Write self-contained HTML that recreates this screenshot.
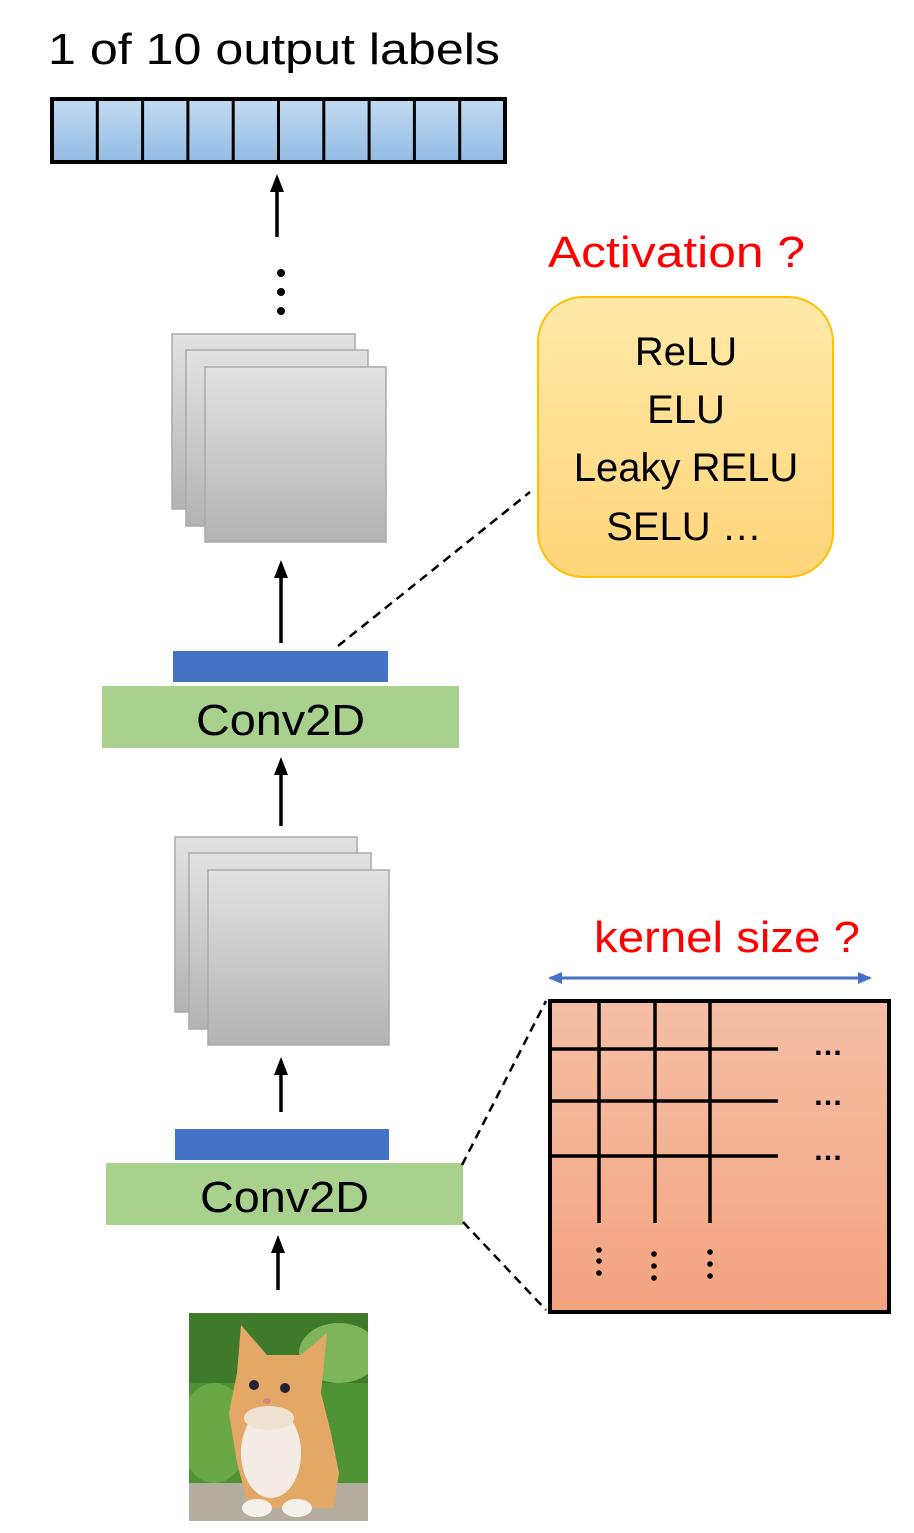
<!DOCTYPE html>
<html><head><meta charset="utf-8"><style>
html,body{margin:0;padding:0;background:#fff;}
svg{display:block;}
text{font-family:"Liberation Sans",sans-serif;}
</style></head><body>
<svg width="914" height="1533" viewBox="0 0 914 1533" xmlns="http://www.w3.org/2000/svg">
<defs>
<linearGradient id="gb" x1="0" y1="0" x2="0" y2="1"><stop offset="0" stop-color="#c3dbf2"/><stop offset="1" stop-color="#92bbe4"/></linearGradient>
<linearGradient id="gg" x1="0" y1="0" x2="0" y2="1"><stop offset="0" stop-color="#e2e2e2"/><stop offset="1" stop-color="#b3b3b3"/></linearGradient>
<linearGradient id="gy" x1="0" y1="0" x2="0" y2="1"><stop offset="0" stop-color="#ffe9a8"/><stop offset="1" stop-color="#ffd57a"/></linearGradient>
<linearGradient id="go" x1="0" y1="0" x2="0" y2="1"><stop offset="0" stop-color="#f5bfa6"/><stop offset="1" stop-color="#f4a380"/></linearGradient>
<marker id="ah" markerWidth="18" markerHeight="14" refX="4" refY="7" orient="auto" markerUnits="userSpaceOnUse"><path d="M0,0 L18,7 L0,14 z" fill="#000"/></marker>
<marker id="bh" markerWidth="14" markerHeight="12" refX="12" refY="6" orient="auto" markerUnits="userSpaceOnUse"><path d="M0,0 L14,6 L0,12 z" fill="#4472c4"/></marker>
<marker id="bt" markerWidth="14" markerHeight="12" refX="2" refY="6" orient="auto" markerUnits="userSpaceOnUse"><path d="M14,0 L0,6 L14,12 z" fill="#4472c4"/></marker>
</defs>
<text x="48" y="64" font-size="44" textLength="452" lengthAdjust="spacingAndGlyphs">1 of 10 output labels</text>
<rect x="52" y="99" width="453" height="63" fill="url(#gb)" stroke="#000" stroke-width="4"/>
<g stroke="#000" stroke-width="3">
<line x1="97.3" y1="99" x2="97.3" y2="162"/><line x1="142.6" y1="99" x2="142.6" y2="162"/><line x1="187.9" y1="99" x2="187.9" y2="162"/><line x1="233.2" y1="99" x2="233.2" y2="162"/><line x1="278.5" y1="99" x2="278.5" y2="162"/><line x1="323.8" y1="99" x2="323.8" y2="162"/><line x1="369.1" y1="99" x2="369.1" y2="162"/><line x1="414.4" y1="99" x2="414.4" y2="162"/><line x1="459.7" y1="99" x2="459.7" y2="162"/>
</g>
<g stroke="#000" stroke-width="3.5">
<line x1="277" y1="237" x2="277" y2="188" marker-end="url(#ah)"/>
<line x1="281" y1="643" x2="281" y2="574" marker-end="url(#ah)"/>
<line x1="281" y1="826" x2="281" y2="771" marker-end="url(#ah)"/>
<line x1="281" y1="1112" x2="281" y2="1071" marker-end="url(#ah)"/>
<line x1="278" y1="1290" x2="278" y2="1249" marker-end="url(#ah)"/>
</g>
<circle cx="281" cy="273" r="4"/><circle cx="281" cy="292" r="4"/><circle cx="281" cy="311" r="4"/>
<g stroke="#aaa" stroke-width="1.5" fill="url(#gg)">
<rect x="172" y="334" width="183" height="175"/><rect x="186" y="350" width="182" height="176"/><rect x="205" y="367" width="181" height="175"/>
<rect x="175" y="837" width="182" height="175"/><rect x="189" y="853" width="182" height="176"/><rect x="208" y="870" width="181" height="175"/>
</g>
<rect x="173" y="651" width="215" height="31" fill="#4472c4"/>
<rect x="102" y="686" width="357" height="62" fill="#a9d18e"/>
<text x="196" y="735" font-size="44" textLength="169" lengthAdjust="spacingAndGlyphs">Conv2D</text>
<rect x="175" y="1129" width="214" height="31" fill="#4472c4"/>
<rect x="106" y="1163" width="357" height="62" fill="#a9d18e"/>
<text x="200" y="1212" font-size="44" textLength="169" lengthAdjust="spacingAndGlyphs">Conv2D</text>
<text x="548" y="267" font-size="44" fill="#ff0000" textLength="257" lengthAdjust="spacingAndGlyphs">Activation ?</text>
<rect x="538" y="297" width="295" height="280" rx="45" fill="url(#gy)" stroke="#ffc000" stroke-width="2"/>
<g font-size="40" text-anchor="middle">
<text x="686" y="365">ReLU</text><text x="686" y="423">ELU</text><text x="686" y="481">Leaky RELU</text><text x="684" y="540">SELU …</text>
</g>
<g stroke="#000" stroke-width="2.5" stroke-dasharray="9,6" fill="none">
<line x1="338" y1="646" x2="530" y2="492"/>
<line x1="462" y1="1165" x2="546" y2="1001"/>
<line x1="463" y1="1222" x2="546" y2="1310"/>
</g>
<text x="594" y="952" font-size="44" fill="#ff0000" textLength="266" lengthAdjust="spacingAndGlyphs">kernel size ?</text>
<line x1="550" y1="978" x2="870" y2="978" stroke="#4472c4" stroke-width="3" marker-start="url(#bt)" marker-end="url(#bh)"/>
<rect x="550" y="1001" width="339" height="311" fill="url(#go)" stroke="#000" stroke-width="4"/>
<g stroke="#000" stroke-width="3.5">
<line x1="550" y1="1049" x2="778" y2="1049"/><line x1="550" y1="1101" x2="778" y2="1101"/><line x1="550" y1="1156" x2="778" y2="1156"/>
<line x1="599" y1="1001" x2="599" y2="1223"/><line x1="655" y1="1001" x2="655" y2="1223"/><line x1="710" y1="1001" x2="710" y2="1223"/>
</g>
<g font-size="30" font-weight="bold">
<text x="813" y="1055">…</text><text x="813" y="1105">…</text><text x="813" y="1160">…</text>
</g>
<g fill="#000">
<circle cx="599" cy="1250" r="2.8"/><circle cx="599" cy="1261" r="2.8"/><circle cx="599" cy="1273" r="2.8"/>
<circle cx="654" cy="1254" r="2.8"/><circle cx="654" cy="1266" r="2.8"/><circle cx="654" cy="1278" r="2.8"/>
<circle cx="710" cy="1252" r="2.8"/><circle cx="710" cy="1264" r="2.8"/><circle cx="710" cy="1276" r="2.8"/>
</g>
<svg x="189" y="1313" width="179" height="208" viewBox="0 0 179 208">
<rect width="179" height="208" fill="#4f9234"/>
<rect width="179" height="70" fill="#3f7a2a"/>
<ellipse cx="150" cy="40" rx="40" ry="30" fill="#7fb55a"/>
<ellipse cx="25" cy="120" rx="35" ry="50" fill="#6aa845"/>
<rect y="170" width="179" height="38" fill="#b5aca0"/>
<path d="M48,60 L52,12 L78,42 L112,42 L138,20 L132,80 L142,120 L150,160 L145,195 L60,195 L48,150 L40,100 Z" fill="#e3a766"/>
<ellipse cx="82" cy="140" rx="30" ry="45" fill="#f4ece4"/>
<ellipse cx="80" cy="105" rx="25" ry="12" fill="#f0e2d2"/>
<ellipse cx="65" cy="72" rx="5" ry="5" fill="#223"/>
<ellipse cx="96" cy="75" rx="5" ry="5" fill="#223"/>
<ellipse cx="78" cy="88" rx="4" ry="3" fill="#d08878"/>
<ellipse cx="68" cy="195" rx="15" ry="9" fill="#f5f0ea"/><ellipse cx="108" cy="195" rx="15" ry="9" fill="#f5f0ea"/>
</svg>
</svg>
</body></html>
